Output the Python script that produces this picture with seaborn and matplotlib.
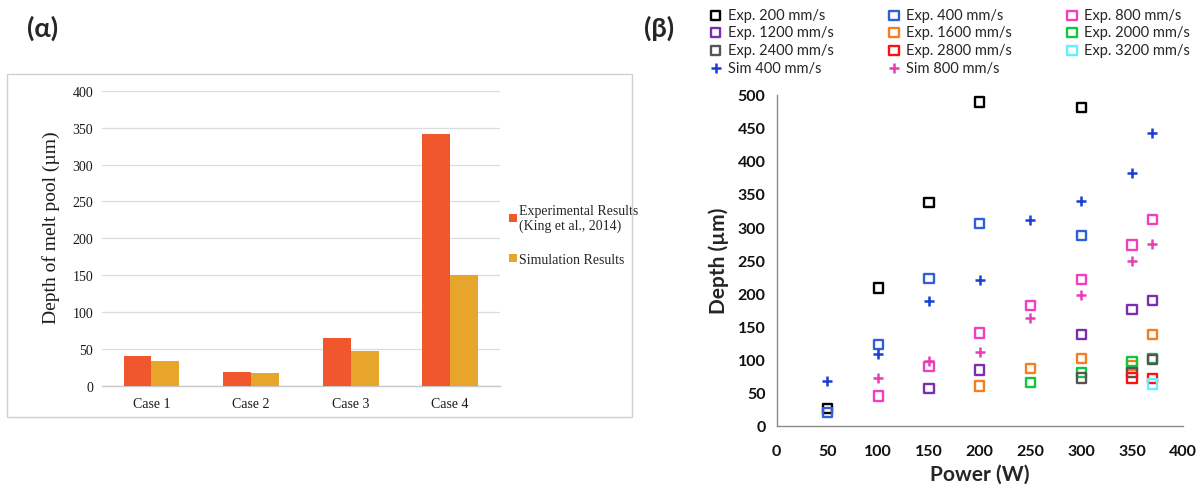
import numpy as np
import pandas as pd
import matplotlib
matplotlib.use("Agg")
import matplotlib.pyplot as plt
from matplotlib.patches import Rectangle
import seaborn as sns

# ---- panel (α): melt-pool depth per case ----
cases = ["Case 1", "Case 2", "Case 3", "Case 4"]
exp_depth = [40, 19, 65, 341]
sim_depth = [34, 17.5, 47, 150]
bar_series = ["Experimental Results\n(King et al., 2014)", "Simulation Results"]
bar_colors = ["#F1572D", "#E8A52B"]

# ---- panel (β): depth vs. laser power for each scan speed ----
exp_200_power = [50, 100, 150, 200, 300]
exp_200_depth = [26, 208, 337, 489, 481]
exp_400_power = [50, 100, 150, 200, 300]
exp_400_depth = [20, 123, 222, 305, 287]
exp_800_power = [100, 150, 200, 250, 300, 350, 370]
exp_800_depth = [45, 90, 140, 182, 221, 273, 312]
exp_1200_power = [150, 200, 300, 350, 370]
exp_1200_depth = [56, 84, 138, 175, 189]
exp_1600_power = [200, 250, 300, 350, 370]
exp_1600_depth = [60, 86, 102, 91, 138]
exp_2000_power = [250, 300, 350, 370]
exp_2000_depth = [65, 80, 97, 101]
exp_2400_power = [300, 350, 370]
exp_2400_depth = [72, 80, 100]
exp_2800_power = [350, 370]
exp_2800_depth = [72, 71]
exp_3200_power = [370]
exp_3200_depth = [63]
sim_400_power = [50, 100, 150, 200, 250, 300, 350, 370]
sim_400_depth = [67, 108, 189, 220, 311, 340, 382, 442]
sim_800_power = [100, 150, 200, 250, 300, 350, 370]
sim_800_depth = [72, 98, 111, 162, 197, 249, 275]

scatter_series = [
    ("Exp. 200 mm/s", exp_200_power, exp_200_depth, "s", "#000000"),
    ("Exp. 400 mm/s", exp_400_power, exp_400_depth, "s", "#3060D8"),
    ("Exp. 800 mm/s", exp_800_power, exp_800_depth, "s", "#F040C0"),
    ("Exp. 1200 mm/s", exp_1200_power, exp_1200_depth, "s", "#7A2FB0"),
    ("Exp. 1600 mm/s", exp_1600_power, exp_1600_depth, "s", "#F57F20"),
    ("Exp. 2000 mm/s", exp_2000_power, exp_2000_depth, "s", "#10C840"),
    ("Exp. 2400 mm/s", exp_2400_power, exp_2400_depth, "s", "#555555"),
    ("Exp. 2800 mm/s", exp_2800_power, exp_2800_depth, "s", "#FF1010"),
    ("Exp. 3200 mm/s", exp_3200_power, exp_3200_depth, "s", "#60F0FF"),
    ("Sim 400 mm/s", sim_400_power, sim_400_depth, "+", "#1A3FD0"),
    ("Sim 800 mm/s", sim_800_power, sim_800_depth, "+", "#E83EB5"),
]

sns.set_theme(style="white")
plt.rcParams["font.family"] = ["Lato", "DejaVu Sans"]

W, H = 1203, 485
fig = plt.figure(figsize=(W / 100, H / 100), dpi=100)

# framed box around the bar chart
fig.patches.append(Rectangle((7 / W, 1 - 418 / H), (632 - 7) / W, (418 - 75) / H,
                             transform=fig.transFigure, fill=False,
                             edgecolor="#d0d0d0", linewidth=1.0))

# ---------------- panel (α) ----------------
ax1 = fig.add_axes([101.7 / W, 1 - 387 / H, (500 - 101.7) / W, (387 - 91.7) / H])
bars = pd.DataFrame({
    "Case": cases * 2,
    "Depth": exp_depth + sim_depth,
    "Series": [bar_series[0]] * len(cases) + [bar_series[1]] * len(cases),
})
sns.barplot(data=bars, x="Case", y="Depth", hue="Series", palette=bar_colors,
            width=0.56, gap=0, linewidth=0, saturation=1, ax=ax1, zorder=3)
ax1.set_xlim(-0.5, 3.5)
ax1.set_ylim(0, 400)
ax1.set_yticks(np.arange(0, 401, 50))
ax1.grid(axis="y", color="#dcdcdc", linewidth=0.9, zorder=0)
ax1.set_axisbelow(True)
for s in ["top", "right", "left"]:
    ax1.spines[s].set_visible(False)
ax1.spines["bottom"].set_color("#c8c8c8")
ax1.spines["bottom"].set_linewidth(1.0)
ax1.set_xticks(np.arange(-0.5, 3.6, 1.0), minor=True)
ax1.tick_params(axis="x", which="major", length=0, pad=8)
ax1.tick_params(axis="x", which="minor", length=4, color="#c8c8c8", direction="out")
ax1.tick_params(axis="y", length=0, pad=6)
serif = "Liberation Serif"
for lab in ax1.get_xticklabels() + ax1.get_yticklabels():
    lab.set_fontfamily(serif)
    lab.set_fontsize(10)
    lab.set_color("#1a1a1a")
ax1.set_xlabel("")
ax1.set_ylabel("Depth of melt pool (µm)", fontfamily=serif, fontsize=14,
               color="#1a1a1a")
ax1.yaxis.set_label_coords(-0.104, 0.54)
h, l = ax1.get_legend_handles_labels()
ax1.legend(h, l, loc="center left", bbox_to_anchor=(509 / W, 1 - 236 / H),
           bbox_transform=fig.transFigure, frameon=False,
           prop={"family": serif, "size": 10}, handlelength=0.55,
           handleheight=0.55, handletextpad=0.2, labelspacing=1.5,
           borderpad=0, borderaxespad=0)

# ---------------- panel (β) ----------------
ax2 = fig.add_axes([776.7 / W, 1 - 426.7 / H, (1182.7 - 776.7) / W, (426.7 - 95.7) / H])
for name, px, dy, mk, col in scatter_series:
    if mk == "s":
        sns.scatterplot(x=px, y=dy, marker="s", s=44, facecolor="none",
                        edgecolor=col, linewidth=1.7, label=name, ax=ax2, zorder=3)
    else:
        sns.scatterplot(x=px, y=dy, marker="+", s=55, color=col,
                        linewidth=1.8, label=name, ax=ax2, zorder=4)
h2, l2 = ax2.get_legend_handles_labels()
ax2.get_legend().remove()

ax2.set_xlim(0, 400)
ax2.set_ylim(0, 500)
ax2.set_xticks(np.arange(0, 401, 50))
ax2.set_yticks(np.arange(0, 501, 50))
for s in ["top", "right"]:
    ax2.spines[s].set_visible(False)
for s in ["left", "bottom"]:
    ax2.spines[s].set_color("#8a8a8a")
    ax2.spines[s].set_linewidth(1.0)
ax2.tick_params(axis="both", length=4, color="#8a8a8a", direction="out", width=1)
ax2.tick_params(axis="x", pad=9)
ax2.tick_params(axis="y", pad=4)
for lab in ax2.get_xticklabels() + ax2.get_yticklabels():
    lab.set_fontsize(11.5)
    lab.set_fontweight("bold")
    lab.set_color("#111111")
ax2.set_xlabel("Power (W)", fontsize=15, fontweight="bold", labelpad=4)
ax2.set_ylabel("Depth (µm)", fontsize=15, fontweight="bold", labelpad=6)

# legend laid out row by row across three columns
order = [0, 3, 6, 9, 1, 4, 7, 10, 2, 5, 8]
fig.legend([h2[i] for i in order], [l2[i] for i in order], ncol=3,
           loc="upper left", bbox_to_anchor=(710 / W, 1 - 9 / H),
           frameon=False, fontsize=10.5, handlelength=0.8, handletextpad=0.4,
           columnspacing=3.75, labelspacing=0.24, borderpad=0, borderaxespad=0)

# panel tags
fig.text(43 / W, 1 - 28 / H, "(α)", fontsize=19.5, fontweight="bold",
         ha="center", va="center")
fig.text(659 / W, 1 - 28 / H, "(β)", fontsize=19.5, fontweight="bold",
         ha="center", va="center")

fig.savefig("out.png", dpi=100)
